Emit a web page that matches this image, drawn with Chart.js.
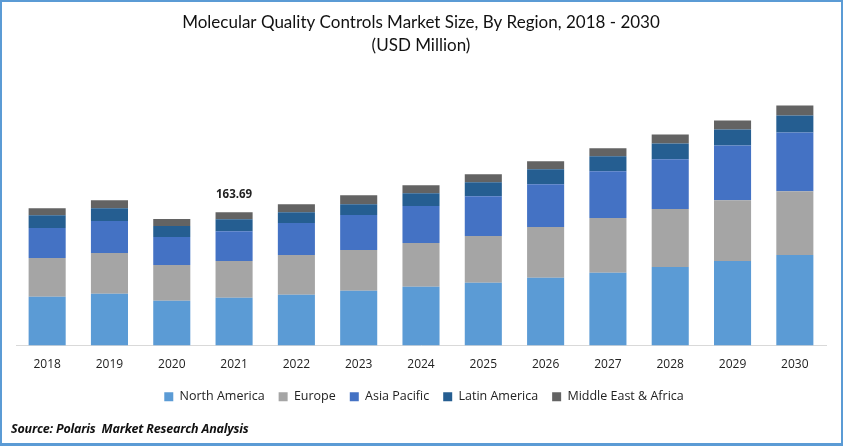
<!DOCTYPE html>
<html>
<head>
<meta charset="utf-8">
<title>Molecular Quality Controls Market Size</title>
<script src="https://cdn.jsdelivr.net/npm/chart.js@4"></script>
<style>
  html, body { margin: 0; padding: 0; background: #fff; }
  #wrap { position: relative; width: 843px; height: 446px; overflow: hidden; }
  #frame { position: absolute; inset: 0; box-sizing: border-box; border: 2px solid #5b9bd5; border-bottom-width: 3px; pointer-events: none; }
  #source { position: absolute; left: 11px; top: 420px; font: italic bold 12.5px "Open Sans", sans-serif; letter-spacing: -0.2px; color: #111; }
</style>
</head>
<body>
<div id="wrap">
  <canvas id="chart" width="843" height="446"></canvas>
  <div id="frame"></div>
  <div id="source">Source: Polaris&nbsp; Market Research Analysis</div>
</div>
<script>
// Values (USD Million)
const years = ['2018', '2019', '2020', '2021', '2022', '2023', '2024', '2025', '2026', '2027', '2028', '2029', '2030'];
const northAmerica = [59.9, 63.5, 55.0, 58.6, 62.3, 67.2, 72.1, 77.0, 83.1, 89.2, 96.5, 103.8, 111.2];
const europe = [47.6, 50.1, 44.0, 45.2, 48.9, 50.1, 53.8, 57.4, 62.3, 67.2, 70.9, 74.5, 78.2];
const asiaPacific = [36.6, 39.1, 34.2, 36.6, 39.1, 42.8, 45.2, 48.9, 52.5, 57.4, 61.1, 67.2, 72.1];
const latinAmerica = [15.9, 15.9, 13.4, 14.7, 13.4, 13.4, 15.9, 17.1, 18.3, 18.3, 19.5, 19.5, 20.8];
const middleEastAfrica = [8.6, 9.8, 8.6, 8.59, 9.8, 11.0, 9.8, 9.8, 9.8, 9.8, 11.0, 11.0, 12.2];

const labelYear = '2021';
const labelText = '163.69';

function makeSeries(label, data, color) {
  return {
    label: label,
    data: data,
    backgroundColor: color,
    borderWidth: 0,
    categoryPercentage: 1,
    barPercentage: 0.595
  };
}

// Draws the single total label above the highlighted bar
const totalLabel = {
  id: 'totalLabel',
  afterDatasetsDraw(chart) {
    const ctx = chart.ctx;
    const meta = chart.getDatasetMeta(chart.data.datasets.length - 1);
    const bar = meta.data[years.indexOf(labelYear)];
    ctx.save();
    ctx.font = 'bold 11.5px "Open Sans", sans-serif';
    ctx.fillStyle = '#222';
    ctx.textAlign = 'center';
    ctx.textBaseline = 'middle';
    ctx.fillText(labelText, bar.x, bar.y - 17);
    ctx.restore();
  }
};

// Nudges the legend after layout so it sits where the reference has it
const legendNudge = {
  id: 'legendNudge',
  afterLayout(chart) {
    const legend = chart.legend;
    legend.left += 3;
    legend.right += 3;
    legend.top += 0.5;
    legend.bottom += 0.5;
  }
};

new Chart(document.getElementById('chart').getContext('2d'), {
  type: 'bar',
  data: {
    labels: years,
    datasets: [
      makeSeries('North America', northAmerica, '#5b9bd5'),
      makeSeries('Europe', europe, '#a5a5a5'),
      makeSeries('Asia Pacific', asiaPacific, '#4472c4'),
      makeSeries('Latin America', latinAmerica, '#255e91'),
      makeSeries('Middle East & Africa', middleEastAfrica, '#636363')
    ]
  },
  options: {
    responsive: false,
    animation: false,
    layout: { padding: { left: 16, right: 17, top: 8, bottom: 33.5 } },
    scales: {
      x: {
        stacked: true,
        border: { display: true, color: '#d9d9d9', width: 1 },
        grid: { display: false },
        ticks: { color: '#222', font: { family: '"Open Sans", sans-serif', size: 12 }, padding: 4, maxRotation: 0 }
      },
      y: { stacked: true, display: false, min: 0, max: 300 }
    },
    plugins: {
      tooltip: { enabled: false },
      title: {
        display: true,
        text: ['Molecular Quality Controls Market Size, By Region, 2018 - 2030', '(USD Million)'],
        color: '#111',
        font: { family: 'Lato, sans-serif', size: 17, weight: 'normal', lineHeight: 1.353 },
        padding: { top: 3, bottom: 44 }
      },
      legend: {
        position: 'bottom',
        labels: {
          color: '#222',
          boxWidth: 9,
          boxHeight: 9,
          padding: 14,
          font: { family: '"Open Sans", sans-serif', size: 12.5 }
        }
      }
    }
  },
  plugins: [totalLabel, legendNudge]
});
</script>
</body>
</html>
